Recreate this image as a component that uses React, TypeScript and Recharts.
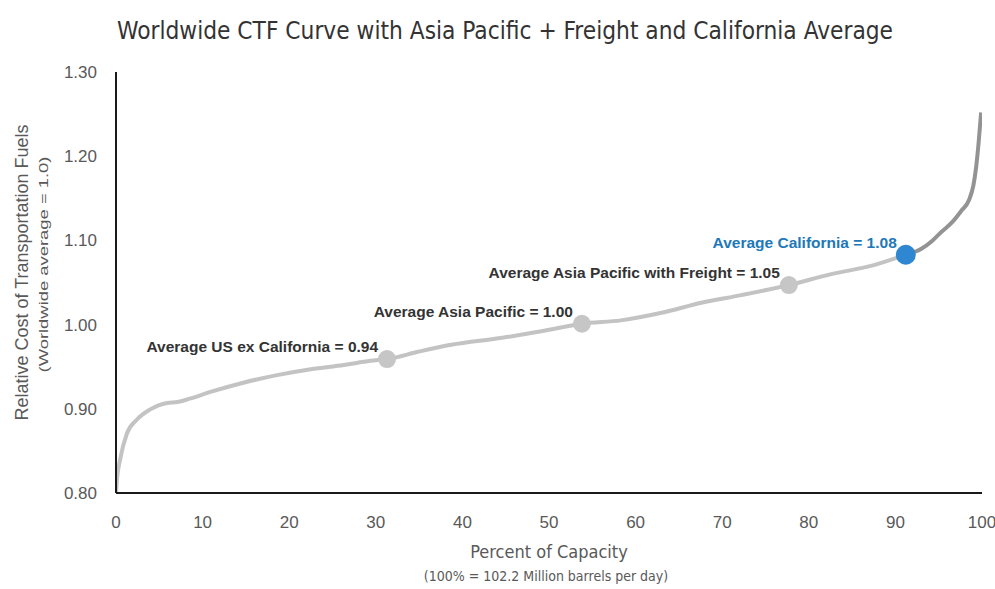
import React from 'react';
import { ComposedChart, Line, Scatter, XAxis, YAxis } from 'recharts';

const capacityPct = [0, 0.1, 0.46, 1.27, 2.4, 3.9, 5.9, 7.1, 8.5, 10.9, 14.7, 18.6, 22.5, 26.3, 29.4, 31.3, 35.0, 38.7, 44.4, 49.1, 53.8, 58.3, 63.0, 67.6, 72.2, 77.7, 82.6, 87.3, 91.2];
const relativeCost = [0.8, 0.815, 0.839, 0.871, 0.887, 0.899, 0.907, 0.908, 0.912, 0.92, 0.931, 0.94, 0.947, 0.952, 0.957, 0.959, 0.968, 0.976, 0.984, 0.992, 1.001, 1.005, 1.014, 1.026, 1.035, 1.047, 1.06, 1.07, 1.083];

const tailPct = [91.2, 93.0, 94.2, 95.3, 96.5, 97.6, 98.5, 99.0, 99.3, 99.6, 99.9];
const tailCost = [1.083, 1.09, 1.099, 1.11, 1.121, 1.135, 1.148, 1.165, 1.185, 1.215, 1.252];

const averageNames = ['Average US ex California = 0.94', 'Average Asia Pacific = 1.00', 'Average Asia Pacific with Freight = 1.05'];
const averagePct = [31.3, 53.8, 77.7];
const averageCost = [0.959, 1.001, 1.047];

const californiaNames = ['Average California = 1.08'];
const californiaPct = [91.2];
const californiaCost = [1.083];

const xTicks = [0, 10, 20, 30, 40, 50, 60, 70, 80, 90, 100];
const yTicks = [0.8, 0.9, 1.0, 1.1, 1.2, 1.3];

const chartTitle = 'Worldwide CTF Curve with Asia Pacific + Freight and California Average';
const yTitle = 'Relative Cost of Transportation Fuels';
const ySubTitle = '(Worldwide average = 1.0)';
const xTitle = 'Percent of Capacity';
const xSubTitle = '(100% = 102.2 Million barrels per day)';

const curveData = capacityPct.map((pct, i) => ({ pct, cost: relativeCost[i] }));
const tailData = tailPct.map((pct, i) => ({ pct, cost: tailCost[i] }));
const averageData = averagePct.map((pct, i) => ({ pct, cost: averageCost[i], name: averageNames[i] }));
const californiaData = californiaPct.map((pct, i) => ({ pct, cost: californiaCost[i], name: californiaNames[i] }));

const SANS = "'Liberation Sans', Arial, sans-serif";
const NARROW = "'Liberation Sans Narrow', 'DejaVu Sans Condensed', 'Liberation Sans', sans-serif";

const makeMarker = (fill: string, r: number, textFill: string) => (props: any) => {
  const { cx, cy, payload } = props;
  return (
    <g>
      <circle cx={cx} cy={cy} r={r} fill={fill} />
      <text x={cx - 9} y={cy - 7} textAnchor="end" fontFamily={SANS} fontWeight="bold" fontSize={15.5} fill={textFill}>
        {payload.name}
      </text>
    </g>
  );
};

const YTitle = (props: any) => {
  const vb = props.viewBox || { x: 40, y: 72, width: 76, height: 421 };
  const cy = vb.y + vb.height / 2 - 10;
  return (
    <g>
      <text x={22} y={cy} transform={`rotate(-90, 22, ${cy})`} textAnchor="middle" dominantBaseline="central" fontFamily={SANS} fontSize={18} fill="#595959">
        {yTitle}
      </text>
      <text x={43} y={cy - 8} transform={`rotate(-90, 43, ${cy - 8})`} textAnchor="middle" dominantBaseline="central" fontFamily={SANS} fontSize={13.5} textLength={216} lengthAdjust="spacingAndGlyphs" fill="#595959">
        {ySubTitle}
      </text>
    </g>
  );
};

const XTitle = () => {
  const cx = 549;
  return (
    <g>
      <text x={cx} y={558} textAnchor="middle" fontFamily={NARROW} fontSize={18} fill="#595959">
        {xTitle}
      </text>
      <text x={cx - 3} y={581} textAnchor="middle" fontFamily={NARROW} fontSize={14} fill="#595959">
        {xSubTitle}
      </text>
    </g>
  );
};

export default function App() {
  return (
    <div style={{ position: 'absolute', left: 0, top: 0, width: 995, height: 589, background: '#fff' }}>
      <svg width={995} height={60} style={{ position: 'absolute', left: 0, top: 0 }}>
        <text x={505} y={39} textAnchor="middle" fontFamily={NARROW} fontSize={25} textLength={776} lengthAdjust="spacingAndGlyphs" fill="#333">
          {chartTitle}
        </text>
      </svg>
      <div style={{ position: 'absolute', left: 0, top: 0 }}>
        <ComposedChart width={995} height={589} margin={{ top: 72, right: 13, bottom: 56, left: 40 }}>
          <XAxis
            dataKey="pct"
            type="number"
            domain={[0, 100]}
            ticks={xTicks}
            allowDataOverflow
            tickLine={false}
            axisLine={{ stroke: '#1a1a1a', strokeWidth: 2 }}
            tick={{ fontSize: 17, fill: '#595959', fontFamily: SANS }}
            tickMargin={17}
            height={40}
            label={<XTitle />}
          />
          <YAxis
            dataKey="cost"
            type="number"
            domain={[0.8, 1.3]}
            ticks={yTicks}
            allowDataOverflow
            tickLine={false}
            axisLine={{ stroke: '#1a1a1a', strokeWidth: 2 }}
            tick={{ fontSize: 17, fill: '#595959', fontFamily: SANS }}
            tickFormatter={(v: number) => v.toFixed(2)}
            tickMargin={13}
            width={76}
            label={<YTitle />}
          />
          <Line data={curveData} dataKey="cost" type="monotone" stroke="#c3c3c3" strokeWidth={4} dot={false} isAnimationActive={false} />
          <Line data={tailData} dataKey="cost" type="monotone" stroke="#939393" strokeWidth={4} dot={false} isAnimationActive={false} />
          <Scatter data={averageData} dataKey="cost" shape={makeMarker('#c6c6c6', 9, '#333333')} isAnimationActive={false} />
          <Scatter data={californiaData} dataKey="cost" shape={makeMarker('#2f86d1', 10, '#2178b8')} isAnimationActive={false} />
        </ComposedChart>
      </div>
    </div>
  );
}
